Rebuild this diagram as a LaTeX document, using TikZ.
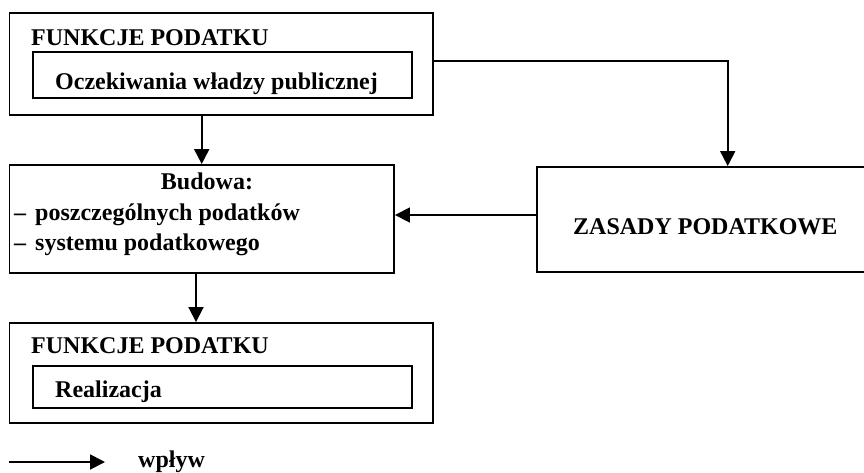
\documentclass[tikz,border=0pt]{standalone}
\usepackage{fontspec}
\setmainfont{Liberation Serif}
\usetikzlibrary{arrows.meta}
\begin{document}
\begin{tikzpicture}[x=1pt,y=-1pt,
  box/.style={draw, line width=1.9pt, inner sep=0pt},
  txt/.style={inner sep=0pt, anchor=base west, font=\fontsize{24}{30}\selectfont\bfseries},
  arr/.style={line width=1.8pt, -{Triangle[length=15pt,width=15pt]}}]
\useasboundingbox (0,0) rectangle (864,472);
% top box
\node[box, minimum width=423.5pt, minimum height=102pt] (topouter) at (221.25,64) {};
\node[box, minimum width=379pt, minimum height=46pt] (topinner) at (222.5,75) {};
\node[txt] (t1) at (31,45) {FUNKCJE PODATKU};
\node[txt] (t2) at (55,89) {Oczekiwania władzy publicznej};
% budowa box
\node[box, minimum width=384.5pt, minimum height=108pt] (budowa) at (201.75,219) {};
\node[txt, anchor=base] (b1) at (207,189) {Budowa:};
\node[txt] (b2) at (14,220) {–\hspace{9pt}poszczególnych podatków};
\node[txt] (b3) at (14,250) {–\hspace{9pt}systemu podatkowego};
% zasady box
\node[box, minimum width=331pt, minimum height=105pt] (zasady) at (702.5,219.5) {};
\node[txt] (z1) at (573,234) {ZASADY PODATKOWE};
% bottom box
\node[box, minimum width=423.5pt, minimum height=100pt] (botouter) at (221.25,373) {};
\node[box, minimum width=379pt, minimum height=42pt] (botinner) at (222.5,387) {};
\node[txt] (f1) at (31,353) {FUNKCJE PODATKU};
\node[txt] (f2) at (55,397) {Realizacja};
% connectors
\coordinate (c1) at (201.7,0);
\coordinate (c2) at (727.7,60.7);
\coordinate (c3) at (0,215);
\coordinate (c4) at (196,0);
\draw[arr] (topouter.south -| c1) -- (budowa.north -| c1);
\draw[arr] (topouter.east |- c2) -| (zasady.north -| c2);
\draw[arr] (zasady.west |- c3) -- (budowa.east |- c3);
\draw[arr] (budowa.south -| c4) -- (botouter.north -| c4);
% legend
\coordinate (l1) at (9,462);
\coordinate (l2) at (105,462);
\draw[arr] (l1) -- (l2);
\node[txt] (w) at (138,467) {wpływ};
\end{tikzpicture}
\end{document}
